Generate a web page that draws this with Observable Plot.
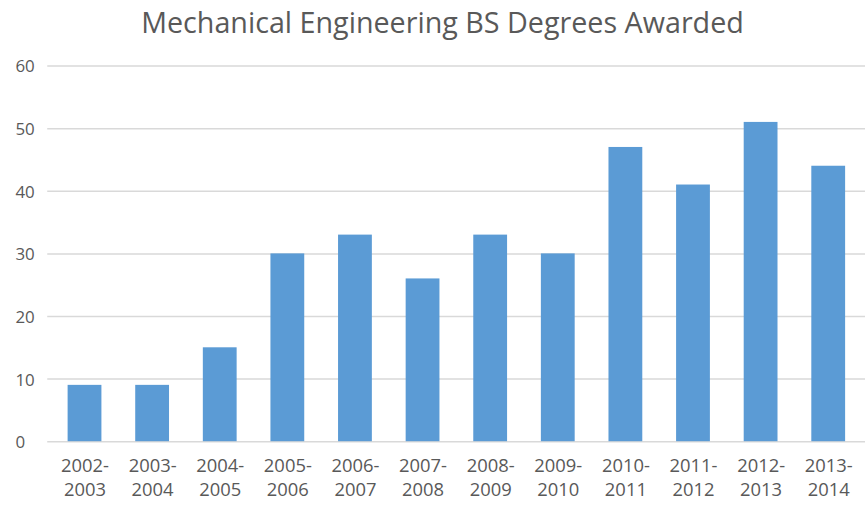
<!DOCTYPE html>
<html>
<head>
<meta charset="utf-8">
<script src="https://cdn.jsdelivr.net/npm/d3@7"></script>
<script src="https://cdn.jsdelivr.net/npm/@observablehq/plot@0.6"></script>
<style>
  html, body { margin: 0; padding: 0; background: #fff; overflow: hidden; width: 865px; height: 506px; }
  #title { font-family: "Open Sans", sans-serif; font-size: 28.7px; color: #595959; height: 44px; line-height: 44px; text-align: center; width: 885px; white-space: nowrap; }
  #chart svg { display: block; }
</style>
</head>
<body>
<div id="title">Mechanical Engineering BS Degrees Awarded</div>
<div id="chart"></div>
<script>
const years = ["2002-2003","2003-2004","2004-2005","2005-2006","2006-2007","2007-2008","2008-2009","2009-2010","2010-2011","2011-2012","2012-2013","2013-2014"];
const degrees = [9, 9, 15, 30, 33, 26, 33, 30, 47, 41, 51, 44];
const yTicks = [0, 10, 20, 30, 40, 50, 60];

const data = years.map((y, i) => ({year: y, value: degrees[i]}));

const chart = Plot.plot({
  width: 870,
  height: 462,
  marginLeft: 47.5,
  marginRight: 0,
  marginTop: 21.7,
  marginBottom: 62.5,
  style: {fontFamily: "'Open Sans', sans-serif", color: "#595959", background: "#fff"},
  x: {domain: years, paddingInner: 0.5, paddingOuter: 0.25, label: null},
  y: {domain: [0, 60], label: null},
  marks: [
    Plot.gridY(yTicks, {stroke: "#D9D9D9", strokeOpacity: 1, strokeWidth: 1.5}),
    Plot.barY(data, {x: "year", y: "value", fill: "#5B9BD5"}),
    Plot.axisY(yTicks, {tickSize: 0, tickPadding: 0, textAnchor: "start", dx: -32.5, dy: 1, fontSize: 17, fill: "#595959", label: null}),
    Plot.axisX({tickSize: 0, tickPadding: 13, fontSize: 18.5, lineHeight: 1.33, fill: "#595959", label: null,
      tickFormat: d => d.replace("-", "-\n")})
  ]
});
document.getElementById("chart").appendChild(chart);
</script>
</body>
</html>
